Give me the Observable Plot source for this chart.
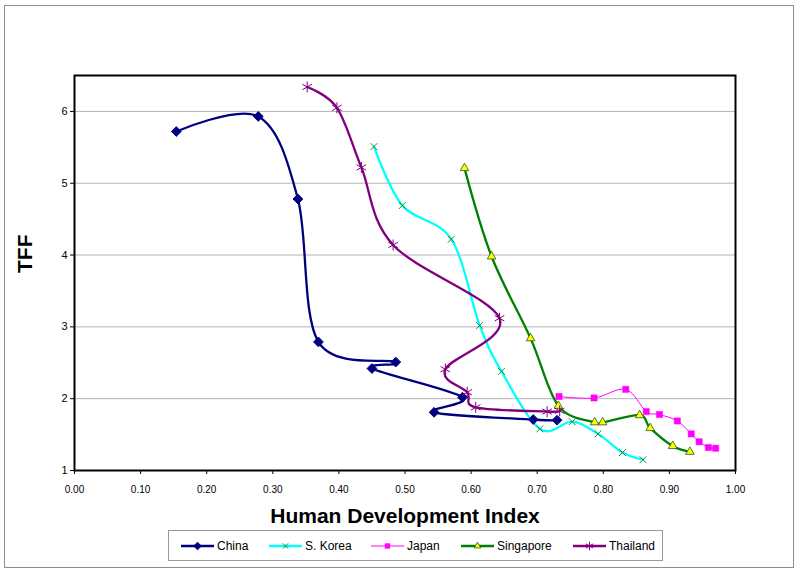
<!DOCTYPE html>
<html><head><meta charset="utf-8">
<script src="https://cdn.jsdelivr.net/npm/d3@7"></script>
<script src="https://cdn.jsdelivr.net/npm/@observablehq/plot@0.6"></script>
<style>
body{margin:0;background:#fff;font-family:"Liberation Sans",Arial,sans-serif;}
#wrap{position:relative;width:800px;height:576px;overflow:hidden}
#chart{position:absolute;left:0;top:0}
#border{position:absolute;left:4px;top:5px;width:790px;height:563px;border:1px solid #8c8c8c;box-sizing:border-box;pointer-events:none}
#legend{position:absolute;left:168px;top:530px;width:495px;height:31px;border:1px solid #9a9a9a;box-sizing:border-box;background:#fff}
.item{position:absolute;top:0;height:29px;display:flex;align-items:center;font-size:12px;color:#000;white-space:nowrap}
.item svg{margin-right:3px}
</style></head><body>
<div id="wrap"><div id="chart"></div><div id="border"></div><div id="legend"></div></div>
<script>
const countries = ["China", "S. Korea", "Japan", "Singapore", "Thailand"];
const xTicks = [0, 0.1, 0.2, 0.3, 0.4, 0.5, 0.6, 0.7, 0.8, 0.9, 1.0];
const yTicks = [1, 2, 3, 4, 5, 6];

const chinaHDI = [0.154, 0.278, 0.338, 0.369, 0.486, 0.450, 0.587, 0.544, 0.694, 0.730];
const chinaTFF = [5.72, 5.93, 4.78, 2.79, 2.51, 2.42, 2.02, 1.81, 1.71, 1.70];
const koreaHDI = [0.453, 0.496, 0.570, 0.613, 0.646, 0.704, 0.753, 0.792, 0.829, 0.860];
const koreaTFF = [5.51, 4.69, 4.22, 3.02, 2.38, 1.58, 1.68, 1.51, 1.25, 1.15];
const japanHDI = [0.733, 0.786, 0.834, 0.865, 0.885, 0.912, 0.933, 0.945, 0.959, 0.970];
const japanTFF = [2.03, 2.01, 2.13, 1.82, 1.78, 1.69, 1.51, 1.40, 1.32, 1.31];
const singaporeHDI = [0.590, 0.631, 0.690, 0.732, 0.787, 0.799, 0.855, 0.871, 0.905, 0.931];
const singaporeTFF = [5.21, 3.98, 2.84, 1.90, 1.67, 1.67, 1.77, 1.59, 1.34, 1.26];
const thailandHDI = [0.352, 0.397, 0.434, 0.482, 0.643, 0.561, 0.594, 0.607, 0.715, 0.734];
const thailandTFF = [6.34, 6.05, 5.22, 4.14, 3.12, 2.41, 2.09, 1.88, 1.82, 1.83];

const seriesData = [chinaHDI, koreaHDI, japanHDI, singaporeHDI, thailandHDI].map((hx, i) => {
  const ty = [chinaTFF, koreaTFF, japanTFF, singaporeTFF, thailandTFF][i];
  return hx.map((h, j) => ({country: countries[i], hdi: h, tff: ty[j], k: j}));
});

const styles = [
  {line: "#000080", lw: 2.3, symbol: "diamond2", r: 4.4, fill: "#000080", stroke: "#000080", sw: 1},
  {line: "#00FFFF", lw: 2.3, symbol: "times", r: 3.2, fill: "none", stroke: "#1f8a2a", sw: 1},
  {line: "#FF00FF", lw: 1, symbol: "square", r: 3.5, fill: "#FF00FF", stroke: "#FF00FF", sw: 0.5},
  {line: "#008000", lw: 2.3, symbol: "triangle", r: 3.2, fill: "#FFFF00", stroke: "#1a5c1a", sw: 0.8},
  {line: "#800080", lw: 2.3, symbol: "asterisk", r: 5.2, fill: "none", stroke: "#800080", sw: 1}
];

const marks = [
  Plot.ruleY([2, 3, 4, 5, 6], {stroke: "#b4b4b4", strokeWidth: 1}),
];
seriesData.forEach((d, i) => {
  const s = styles[i];
  marks.push(Plot.line(d, {x: "hdi", y: "tff", stroke: s.line, strokeWidth: s.lw, curve: "cardinal", tension: 0}));
});
seriesData.forEach((d, i) => {
  const s = styles[i];
  marks.push(Plot.dot(d, {x: "hdi", y: "tff", symbol: s.symbol, r: s.r, fill: s.fill, stroke: s.stroke, strokeWidth: s.sw}));
});
marks.push(
  Plot.frame({stroke: "#000", strokeWidth: 2}),
  Plot.axisX({ticks: xTicks, tickFormat: d => d.toFixed(2), tickSize: 4, tickPadding: 11, fontSize: 10, label: null, stroke: "#000"}),
  Plot.axisY({ticks: yTicks, tickFormat: d => String(d), tickSize: 4, tickPadding: 3, fontSize: 11, label: null}),
  Plot.text(["TFF"], {frameAnchor: "left", dx: -49, rotate: -90, fontSize: 21, fontWeight: "bold", fill: "#000"}),
  Plot.text(["Human Development Index"], {frameAnchor: "bottom", dy: 52, fontSize: 21, fontWeight: "bold", fill: "#000"})
);

const chart = Plot.plot({
  width: 800, height: 576,
  marginLeft: 74, marginRight: 65, marginTop: 75, marginBottom: 106,
  style: {fontFamily: "'Liberation Sans', Arial, sans-serif", color: "#000", background: "transparent", overflow: "visible"},
  x: {domain: [0, 1]},
  y: {domain: [1, 6.5]},
  marks
});
document.getElementById("chart").appendChild(chart);

// legend
const legend = document.getElementById("legend");
const lefts = [12, 100, 202, 292, 404];
countries.forEach((c, i) => {
  const s = styles[i];
  const item = document.createElement("div");
  item.className = "item";
  item.style.left = lefts[i] + "px";
  const svg = d3.create("svg").attr("width", 33).attr("height", 14);
  svg.append("line").attr("x1", 0).attr("x2", 33).attr("y1", 7).attr("y2", 7)
    .attr("stroke", s.line).attr("stroke-width", s.lw);
  const symMap = {diamond2: d3.symbolDiamond2, times: d3.symbolTimes, square: d3.symbolSquare, triangle: d3.symbolTriangle, asterisk: d3.symbolAsterisk};
  svg.append("path").attr("transform", "translate(16.5,7)")
    .attr("d", d3.symbol(symMap[s.symbol], Math.PI * s.r * s.r * 0.6)())
    .attr("fill", s.fill).attr("stroke", s.stroke).attr("stroke-width", s.sw);
  item.appendChild(svg.node());
  const t = document.createElement("span");
  t.textContent = c;
  item.appendChild(t);
  legend.appendChild(item);
});
</script>
</body></html>
